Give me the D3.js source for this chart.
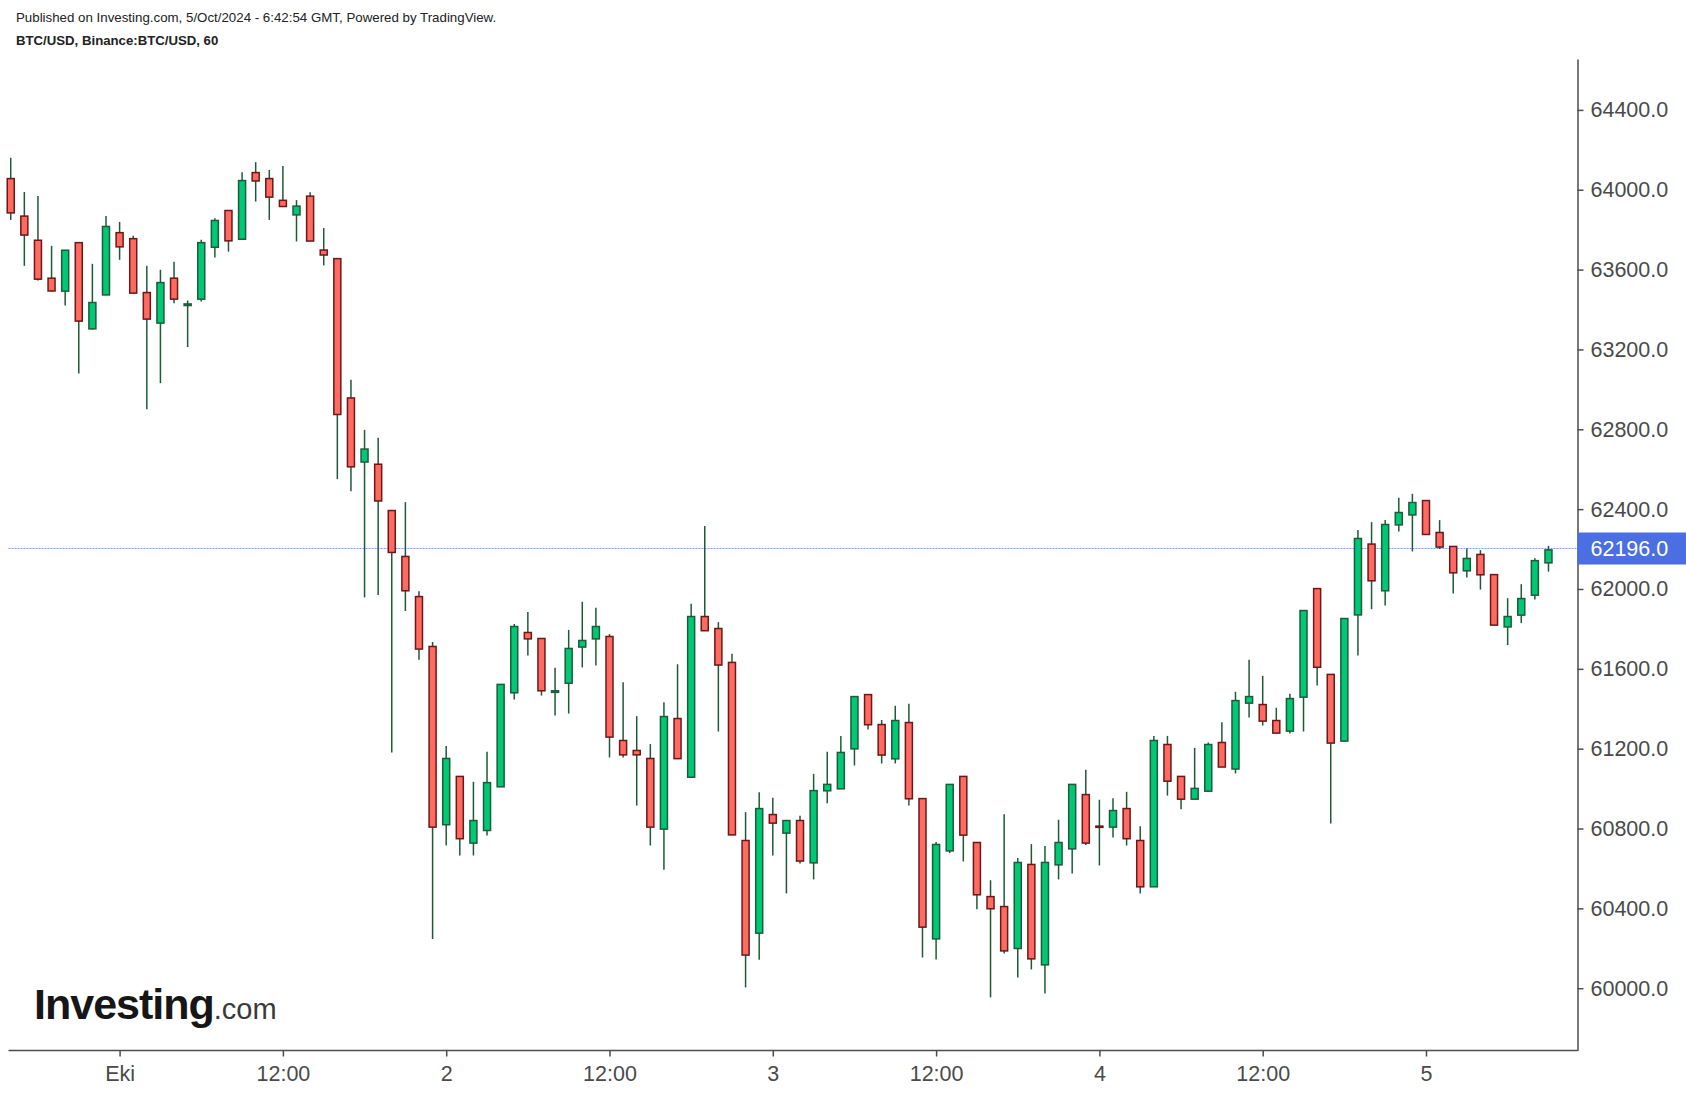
<!DOCTYPE html>
<html><head><meta charset="utf-8">
<script src="https://cdn.jsdelivr.net/npm/d3@7"></script>
<style>
html,body{margin:0;padding:0;background:#fff;}
svg{display:block;font-family:"Liberation Sans",Arial,sans-serif;}
</style></head>
<body>
<svg id="chart" width="1686" height="1094"></svg>
<script>
// ---- Data (hourly candles, local time GMT+3), first candle 30 Sep 16:00 ----
const opens = [64056,63868,63747,63557,63492,63735,63303,63473,63785,63755,
63485,63332,63557,63420,63452,63712,63896,63752,64086,64056,
63947,63874,63968,63698,63655,62957,62636,62625,62393,62163,
61962,61712,60819,61061,60727,60790,61009,61480,61782,61752,
61482,61528,61709,61750,61762,61241,61191,61151,60797,61351,
61057,61862,61802,61632,60740,60276,60870,60777,60840,60628,
60989,60999,61199,61471,61321,61149,61331,60950,60247,60688,
61061,60730,60459,60409,60199,60620,60117,60618,60698,60970,
60812,60807,60900,60740,60508,61221,61061,60947,60987,61231,
61098,61428,61421,61341,61288,61458,62002,61572,61238,61870,
62225,61991,62321,62371,62443,62283,62213,62091,62173,62072,
61810,61869,61969,62131];
const highs = [64160,63989,63969,63719,63697,63735,63629,63869,63839,63769,
63619,63599,63639,63445,63749,63857,63896,64088,64138,64099,
64119,63948,63987,63808,63655,63048,62797,62757,62393,62435,
61989,61734,61214,61061,61034,61184,61522,61825,61885,61752,
61605,61795,61936,61906,61774,61533,61363,61223,61433,61623,
61926,62316,61834,61675,60882,60982,60954,60840,60864,61074,
61184,61264,61461,61471,61344,61415,61425,60950,60732,61021,
61061,60730,60541,60872,60652,60722,60713,60844,61021,61094,
60944,60952,60984,60812,61264,61264,61061,61204,61231,61332,
61485,61645,61565,61405,61475,61892,62002,61572,61852,62296,
62335,62345,62457,62477,62443,62345,62213,62203,62195,62072,
61954,62024,62154,62216];
const lows = [63849,63619,63545,63490,63420,63079,63300,63473,63649,63482,
62901,63031,63432,63212,63440,63660,63690,63752,63941,63849,
63916,63741,63743,63621,62550,62489,61958,61970,61181,61890,
61645,60246,60715,60665,60665,60765,61009,61446,61667,61466,
61366,61376,61607,61617,61156,61156,60915,60715,60593,61150,
61057,61791,61286,60768,60004,60142,60665,60475,60625,60545,
60926,60999,61116,61296,61126,61126,60915,60154,60144,60677,
60635,60395,59954,60174,60054,60094,59974,60545,60575,60717,
60615,60755,60715,60475,60508,60965,60896,60947,60987,61108,
61076,61356,61316,61278,61276,61286,61517,60825,61238,61667,
61899,61917,62288,62188,62273,62200,61977,62057,61997,61819,
61719,61829,61947,62087];
const closes = [63884,63773,63552,63493,63697,63342,63435,63816,63714,63482,
63352,63535,63452,63428,63735,63846,63744,64046,64044,63963,
63916,63918,63743,63673,62874,62612,62701,62441,62183,61991,
61699,60807,61151,60749,60840,61030,61522,61812,61750,61490,
61490,61702,61742,61812,61258,61169,61169,60807,61361,61150,
61862,61791,61619,60768,60166,60900,60827,60840,60637,60990,
61021,61181,61461,61320,61168,61341,60949,60306,60720,61021,
60767,60468,60398,60187,60630,60147,60630,60730,61021,60727,
60806,60890,60749,60508,61241,61037,60947,61001,61221,61108,
61441,61461,61338,61278,61451,61892,61608,61228,61852,62253,
62041,62323,62383,62433,62273,62210,62081,62153,62071,61819,
61862,61952,62142,62196];
const firstCandle = Date.UTC(2024, 8, 30, 16);
const lastPrice = 62196.0;
const yTicks = [60000,60400,60800,61200,61600,62000,62400,62800,63200,63600,64000,64400];
const xTickLabels = ["Eki","12:00","2","12:00","3","12:00","4","12:00","5"];
const xTickTimes = xTickLabels.map((_, i) => Date.UTC(2024, 9, 1) + i * 12 * 3600e3);
const headerLine1 = "Published on Investing.com, 5/Oct/2024 - 6:42:54 GMT, Powered by TradingView.";
const headerLine2 = "BTC/USD, Binance:BTC/USD, 60";

const candles = opens.map((o, i) => ({
  t: new Date(firstCandle + i * 3600e3), o, h: highs[i], l: lows[i], c: closes[i]
}));

// ---- Layout ----
const W = 1686, H = 1094;
const axisX = 1577.5, axisY = 1050.5, plotTop = 59, plotLeft = 8.5;
const svg = d3.select("#chart");

const x = d3.scaleUtc()
  .domain([new Date(Date.UTC(2024, 9, 1)), new Date(Date.UTC(2024, 9, 5))])
  .range([119.6, 1426]);
const y = d3.scaleLinear().domain([59688, 64655]).range([axisY, plotTop]);

const axisColor = "#4d4d4d";
const labelColor = "#4a4a4a";
const fontSize = 21.5;

// header
svg.append("text").attr("x", 16).attr("y", 21.5)
  .attr("font-size", 13.3).attr("fill", "#222").text(headerLine1);
svg.append("text").attr("x", 16).attr("y", 44.5)
  .attr("font-size", 13.2).attr("font-weight", "bold").attr("fill", "#222").text(headerLine2);

// last price dotted line
const lineY = Math.round(y(lastPrice)) - 1.5;
svg.append("line")
  .attr("x1", plotLeft).attr("x2", axisX)
  .attr("y1", lineY).attr("y2", lineY)
  .attr("stroke", "#7f9cf0").attr("stroke-width", 1).attr("stroke-dasharray", "2,1");

// candles
const bw = 7;
const wickColor = "#1e5a3a";
const g = svg.append("g");
g.selectAll("line.wick").data(candles).join("line")
  .attr("class", "wick")
  .attr("x1", d => x(d.t)).attr("x2", d => x(d.t))
  .attr("y1", d => y(d.h)).attr("y2", d => y(d.l))
  .attr("stroke", wickColor).attr("stroke-width", 1.5);
g.selectAll("rect.body").data(candles).join("rect")
  .attr("class", "body")
  .attr("x", d => x(d.t) - bw / 2)
  .attr("width", bw)
  .attr("y", d => y(Math.max(d.o, d.c)))
  .attr("height", d => Math.max(0.5, Math.abs(y(d.o) - y(d.c))))
  .attr("fill", d => d.c >= d.o ? "#00c875" : "#ff6b61")
  .attr("stroke", d => d.c >= d.o ? "#1c5c3b" : "#6a1818")
  .attr("stroke-width", 1.5);

// y axis
const yAxis = d3.axisRight(y).tickValues(yTicks).tickFormat(d => d.toFixed(1))
  .tickSize(6).tickSizeOuter(0).tickPadding(7);
const gy = svg.append("g").attr("transform", `translate(${axisX},0)`).call(yAxis);
gy.select(".domain").attr("stroke", axisColor).attr("stroke-width", 1.5);
gy.selectAll(".tick line").attr("stroke", axisColor).attr("stroke-width", 1.5);
gy.selectAll(".tick text").attr("fill", labelColor).attr("font-size", fontSize)
  .attr("font-family", "Liberation Sans, Arial, sans-serif");

// x axis
const xAxis = d3.axisBottom(x).tickValues(xTickTimes.map(t => new Date(t)))
  .tickFormat((d, i) => xTickLabels[i]).tickSize(6).tickPadding(9);
const gx = svg.append("g").attr("transform", `translate(0,${axisY})`).call(xAxis);
gx.select(".domain").remove();
gx.append("line").attr("x1", plotLeft).attr("x2", axisX).attr("y1", 0).attr("y2", 0)
  .attr("stroke", axisColor).attr("stroke-width", 1.5);
gx.selectAll(".tick line").attr("stroke", axisColor).attr("stroke-width", 1.5);
gx.selectAll(".tick text").attr("fill", labelColor).attr("font-size", fontSize)
  .attr("font-family", "Liberation Sans, Arial, sans-serif");

// last price label
svg.append("rect").attr("x", axisX).attr("y", lineY - 16).attr("width", W - axisX).attr("height", 32)
  .attr("fill", "#4b6fe2");
svg.append("text").attr("x", axisX + 13).attr("y", lineY).attr("dy", "0.36em")
  .attr("fill", "#fff").attr("font-size", fontSize).text(lastPrice.toFixed(1));

// logo
const logo = svg.append("text").attr("x", 34).attr("y", 1019);
logo.append("tspan").attr("font-size", 43).attr("font-weight", "bold")
  .attr("letter-spacing", -1).attr("fill", "#161616").text("Investing");
logo.append("tspan").attr("font-size", 29).attr("fill", "#3a3a3a").text(".com");
</script>
</body></html>
